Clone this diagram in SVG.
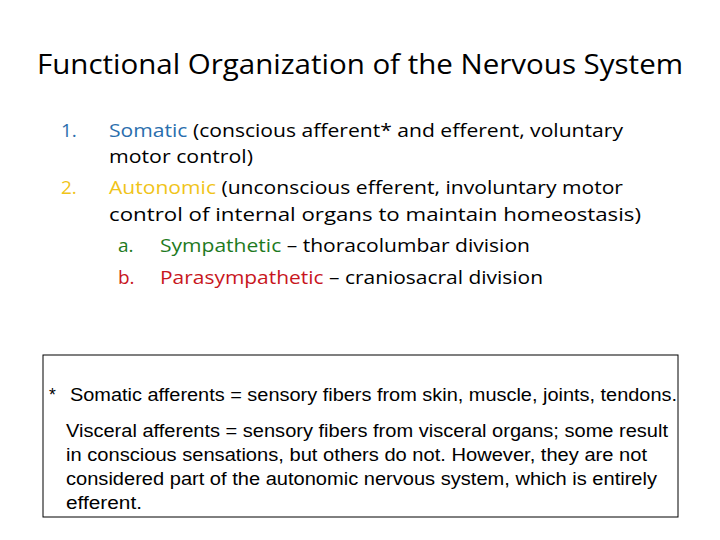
<svg xmlns="http://www.w3.org/2000/svg" width="720" height="540" viewBox="0 0 720 540">
<style>
.c{font-family:"Open Sans","Noto Sans",sans-serif;font-size:19px;fill:#000}
.a{font-family:"Liberation Sans",Arial,sans-serif;font-size:17.5px;fill:#000}
.bl{fill:#2a6ead}.ye{fill:#f0c419}.gr{fill:#1e7a1e}.rd{fill:#c8161d}
</style>
<rect width="720" height="540" fill="#fff"/>
<g id="title"><text x="37" y="74" font-family="'Open Sans','Noto Sans',sans-serif" font-size="28" textLength="646" lengthAdjust="spacingAndGlyphs">Functional Organization of the Nervous System</text></g>
<g id="list">
<text class="c bl" x="61" y="137">1.</text>
<text class="c" x="109" y="137" textLength="514" lengthAdjust="spacingAndGlyphs"><tspan class="bl">Somatic</tspan> (conscious afferent* and efferent, voluntary</text>
<text class="c" x="109" y="163" textLength="144" lengthAdjust="spacingAndGlyphs">motor control)</text>
<text class="c ye" x="61" y="194">2.</text>
<text class="c" x="109" y="194" textLength="514" lengthAdjust="spacingAndGlyphs"><tspan class="ye">Autonomic</tspan> (unconscious efferent, involuntary motor</text>
<text class="c" x="109" y="221" textLength="532" lengthAdjust="spacingAndGlyphs">control of internal organs to maintain homeostasis)</text>
<text class="c gr" x="118" y="252">a.</text>
<text class="c" x="160" y="252" textLength="370" lengthAdjust="spacingAndGlyphs"><tspan class="gr">Sympathetic</tspan> – thoracolumbar division</text>
<text class="c rd" x="118" y="284">b.</text>
<text class="c" x="160" y="284" textLength="383" lengthAdjust="spacingAndGlyphs"><tspan class="rd">Parasympathetic</tspan> – craniosacral division</text>
</g>
<g id="note">
<rect x="43" y="355" width="635" height="162" fill="#fff" stroke="#000" stroke-width="1"/>
<text class="a" x="49" y="401">*</text>
<text class="a" x="70" y="401" textLength="607" lengthAdjust="spacingAndGlyphs">Somatic afferents = sensory fibers from skin, muscle, joints, tendons.</text>
<text class="a" x="66" y="437" textLength="602" lengthAdjust="spacingAndGlyphs">Visceral afferents = sensory fibers from visceral organs; some result</text>
<text class="a" x="66" y="461" textLength="581" lengthAdjust="spacingAndGlyphs">in conscious sensations, but others do not. However, they are not</text>
<text class="a" x="66" y="485" textLength="591" lengthAdjust="spacingAndGlyphs">considered part of the autonomic nervous system, which is entirely</text>
<text class="a" x="66" y="509" textLength="76" lengthAdjust="spacingAndGlyphs">efferent.</text>
</g>
</svg>
